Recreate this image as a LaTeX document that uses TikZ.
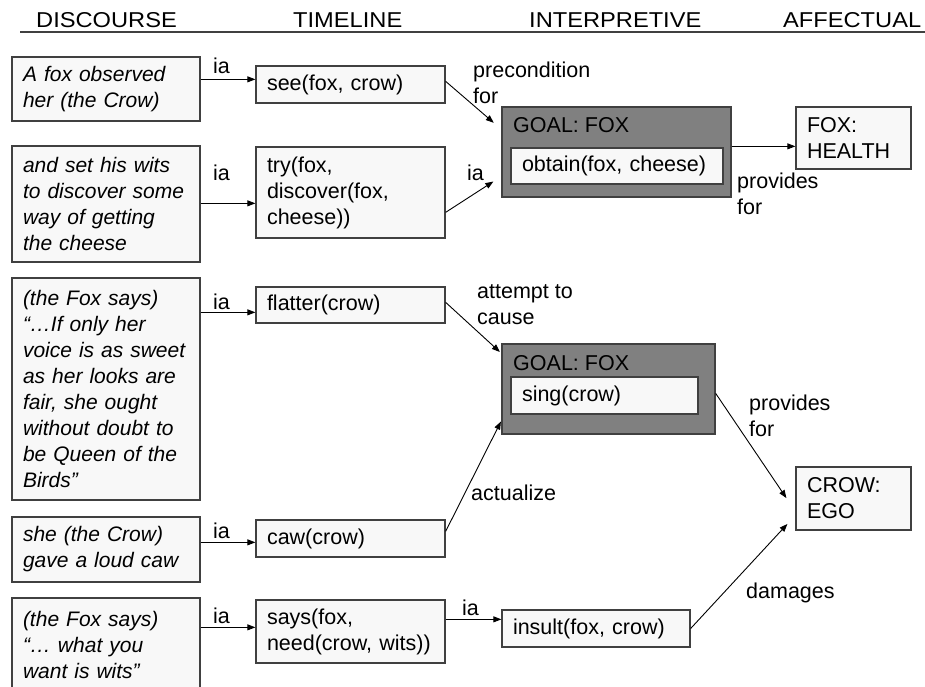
\documentclass[tikz,border=0pt]{standalone}
\usepackage{fontspec}
\setmainfont{Liberation Sans}
\newfontfamily\headfont[FakeStretch=1.1]{Liberation Sans}
\usetikzlibrary{arrows.meta,calc}
\definecolor{edge}{HTML}{404040}
\definecolor{boxfill}{HTML}{F8F8F8}
\definecolor{goalfill}{HTML}{808080}
\newcommand\diagfont{\fontsize{21.5}{26}\selectfont}
\newcommand\quotefont{\fontsize{21}{26}\selectfont\itshape}
\newcommand\twolines[2]{\begin{tabular}[t]{@{}l@{}}#1\\#2\end{tabular}}

\begin{document}
\begin{tikzpicture}[x=1pt,y=-1pt,
  box/.style={draw=edge, fill=boxfill, line width=1.3pt, rectangle,
    inner xsep=11pt, inner ysep=0pt, align=left, font=\diagfont},
  dbox/.style={box, font=\quotefont},
  goal/.style={draw=edge, fill=goalfill, line width=1.3pt, rectangle, inner sep=0pt},
  lbl/.style={anchor=base west, inner sep=0pt, font=\diagfont},
  head/.style={anchor=base west, inner sep=0pt, font=\headfont\fontsize{21.5}{26}\selectfont},
  arr/.style={-{Triangle[length=8pt,width=6pt]}, line width=0.9pt, black}]

\fill[white] (0,0) rectangle (925,687);
\useasboundingbox (0,0) rectangle (925,687);

% column headings
\node[head] (hdisc) at (36,28) {DISCOURSE};
\node[head] (htime) at (293,28) {TIMELINE};
\node[head] (hint)  at (529,28) {INTERPRETIVE};
\node[head] (haff)  at (783,28) {AFFECTUAL};
\coordinate (rulel) at (20,32);
\coordinate (ruler) at (925,32);
\draw[edge, line width=1.5pt] (rulel) -- (ruler);

% discourse column
\node[dbox, minimum width=188pt, minimum height=64pt, text width=166pt] (d1) at (106,89)
  {A fox observed\\her (the Crow)};
\node[dbox, minimum width=188pt, minimum height=116pt, text width=166pt] (d2) at (106,204)
  {and set his wits\\to discover some\\way of getting\\the cheese};
\node[dbox, minimum width=188pt, minimum height=222pt, text width=166pt] (d3) at (106,389)
  {(the Fox says)\\“…If only her\\\mbox{voice is as sweet}\\as her looks are\\fair, she ought\\without doubt to\\be Queen of the\\Birds”};
\node[dbox, minimum width=188pt, minimum height=65pt, text width=166pt] (d4) at (106,549.5)
  {she (the Crow)\\gave a loud caw};
\node[dbox, minimum width=188pt, minimum height=93pt, text width=166pt] (d5) at (106,644.5)
  {(the Fox says)\\“… what you\\want is wits”};

% timeline column
\node[box, minimum width=189pt, minimum height=37pt, text width=167pt] (see) at (350.5,84.5)
  {see(fox, crow)};
\node[box, minimum width=189pt, minimum height=91pt, text width=167pt] (try) at (350.5,192.5)
  {try(fox,\\discover(fox,\\cheese))};
\node[box, minimum width=189pt, minimum height=36pt, text width=167pt] (flatter) at (350.5,305)
  {flatter(crow)};
\node[box, minimum width=189pt, minimum height=37pt, text width=167pt] (caw) at (350.5,538.5)
  {caw(crow)};
\node[box, minimum width=189pt, minimum height=63pt, text width=167pt] (says) at (350.5,631.5)
  {says(fox,\\need(crow, wits))};

% interpretive column
\node[goal, minimum width=229pt, minimum height=90pt] (g1) at (616.5,152) {};
\node[lbl] (g1lbl) at (513,133) {GOAL: FOX};
\node[box, minimum width=212pt, minimum height=36pt, text width=190pt] (o1) at (617,166)
  {obtain(fox, cheese)};
\node[goal, minimum width=213pt, minimum height=90pt] (g2) at (608.5,389) {};
\node[lbl] (g2lbl) at (513,370) {GOAL: FOX};
\node[box, minimum width=187pt, minimum height=37pt, text width=165pt] (s2) at (604.5,395.5)
  {sing(crow)};
\node[box, minimum width=188pt, minimum height=37pt, text width=166pt] (insult) at (596,628.5)
  {insult(fox, crow)};

% affectual column
\node[box, minimum width=115pt, minimum height=62pt, text width=93pt] (fox) at (853.5,138)
  {FOX:\\HEALTH};
\node[box, minimum width=115pt, minimum height=63pt, text width=93pt] (crow) at (853.5,498.5)
  {CROW:\\EGO};

% discourse -> timeline links
\draw[arr] ($(d1.north east)+(0,23)$) -- ($(see.north west)+(0,14)$);
\draw[arr] ($(d2.north east)+(0,58)$) -- ($(try.north west)+(0,57)$);
\draw[arr] ($(d3.north east)+(0,35)$) -- ($(flatter.north west)+(0,26)$);
\draw[arr] ($(d4.north east)+(0,26)$) -- ($(caw.north west)+(0,23)$);
\draw[arr] ($(d5.north east)+(0,30)$) -- ($(says.north west)+(0,28)$);
\node[lbl] (ia1) at (213,74) {ia};
\node[lbl] (ia2) at (213,180) {ia};
\node[lbl] (ia3) at (213,309) {ia};
\node[lbl] (ia4) at (213,538) {ia};
\node[lbl] (ia5) at (213,623) {ia};

% timeline -> interpretive links
\draw[arr, shorten >=10pt] ($(see.north east)+(0,16)$) -- ($(g1.north west)+(0,23)$);
\draw[arr, shorten >=9.5pt] ($(try.north east)+(0,66)$) -- ($(g1.north west)+(0,70)$);
\draw[arr, shorten >=2pt] ($(flatter.north east)+(0,16)$) -- ($(g2.north west)+(0,10)$);
\draw[arr, shorten >=1pt] ($(caw.north east)+(0,12)$) -- ($(g2.south west)+(0,-14)$);
\draw[arr] ($(says.north east)+(0,20)$) -- ($(insult.north west)+(0,10)$);
\node[lbl] (lpre) at (473,78) {\twolines{precondition}{for}};
\node[lbl] (ia6) at (467,180) {ia};
\node[lbl] (latt) at (477,298) {\twolines{attempt to}{cause}};
\node[lbl] (lact) at (471,500) {actualize};
\node[lbl] (ia7) at (462,615) {ia};

% interpretive -> affectual links
\draw[arr] ($(g1.north east)+(0,40)$) -- ($(fox.north west)+(0,40)$);
\draw[arr, shorten >=16pt] ($(g2.north east)+(0,50)$) -- ($(crow.north west)+(0,45)$);
\draw[arr, shorten >=11.7pt] (insult.east) -- ($(crow.north west)+(0,49)$);
\node[lbl] (lprov1) at (737,188) {\twolines{provides}{for}};
\node[lbl] (lprov2) at (749,410) {\twolines{provides}{for}};
\node[lbl] (ldam) at (746,598) {damages};

\end{tikzpicture}
\end{document}
